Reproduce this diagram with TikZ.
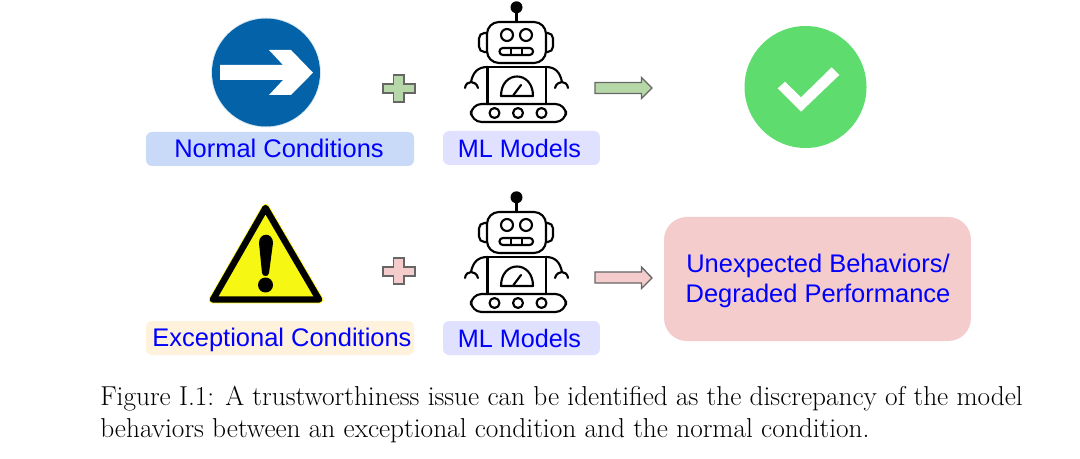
\documentclass[tikz,border=0pt]{standalone}
\usepackage{fontspec}
\newfontfamily\labelfont{Liberation Sans}
\definecolor{bluefill}{HTML}{C9DAF8}
\definecolor{violetfill}{HTML}{E0E0FF}
\definecolor{creamfill}{HTML}{FFF2DC}
\definecolor{pinkfill}{HTML}{F4CCCC}
\definecolor{greenfill}{HTML}{B6D7A8}
\definecolor{okgreen}{HTML}{5EDD6E}
\definecolor{signblue}{HTML}{0463A8}
\definecolor{signyellow}{HTML}{F7F714}
\tikzset{
  x=0.75pt,y=-0.75pt,
  labelbox/.style={rounded corners=4.5pt,inner sep=0pt,anchor=center,text=blue,text depth=4pt,font=\labelfont\fontsize{19.1}{23}\selectfont},
  robotline/.style={draw=black,line width=1.6pt,line cap=round,line join=round},
  blockshape/.style={draw=black!60,line width=1pt,line join=miter},
  pics/robot/.style={code={
    \fill (516.5,7.3) circle (6);
    \draw[robotline] (516.5,10) -- (516.5,22);
    \draw[robotline,rounded corners=9pt] (487,22) rectangle (546,63);
    \draw[robotline,rounded corners=4pt] (487,33) -- (479,33) -- (479,52) -- (487,52);
    \draw[robotline,rounded corners=4pt] (546,33) -- (553,33) -- (553,52) -- (546,52);
    \draw[robotline] (507,35) circle (6) (526,35) circle (6);
    \draw[robotline,rounded corners=2.5pt] (499.5,48) rectangle (533,55);
    \draw[robotline] (511,48) -- (511,55) (522,48) -- (522,55);
    \draw[robotline] (487.5,104) -- (487.5,67) (546,104) -- (546,67);
    \draw[robotline] (487.5,67) -- (546,67);
    \draw[robotline] (487.5,67) .. controls (478,67) and (473,72) .. (471,82);
    \draw[robotline] (546,67) .. controls (555,67) and (560,72) .. (562,82);
    \draw[robotline] (465,88) .. controls (466,80) and (476,80) .. (478,88);
    \draw[robotline] (568,88) .. controls (567,80) and (557,80) .. (555,88);
    \draw[robotline,rounded corners=8pt] (471,104) rectangle (566,122);
    \draw[robotline] (494.5,113) circle (5) (518,113) circle (5) (541.5,113) circle (5);
    \draw[robotline] (501,96) .. controls (501,70) and (533,70) .. (533,96) -- cycle;
    \draw[robotline] (513.5,95) -- (521,85);
  }}
}
\begin{document}
\begin{tikzpicture}
\useasboundingbox (0,0) rectangle (1080,459);

% blue sign
\fill[signblue!15] (266,72.5) circle (55);
\fill[signblue] (266,72.5) circle (54);
\fill[white] (220,65) -- (283,65) -- (269,50) -- (291,50) -- (313,72.7) -- (291,95) -- (269,95) -- (283,80) -- (220,80) -- cycle;

% warning sign
\draw[signyellow,fill=signyellow,line width=6pt,line join=round] (265.5,208) -- (213,299.5) -- (319,299.5) -- cycle;
\draw[black,line width=4.8pt,line join=round] (265.5,208) -- (213,299.5) -- (319,299.5) -- cycle;
\fill[black] (259,243) .. controls (259,232) and (273,232) .. (273,243) -- (269,273) .. controls (268.5,277) and (262.5,277) .. (262,273) -- cycle;
\fill[black] (265.5,285) circle (7.5);

% plus signs
\draw[blockshape,fill=greenfill] (393.5,75) -- (404,75) -- (404,84) -- (415,84) -- (415,93) -- (404,93) -- (404,102) -- (393.5,102) -- (393.5,93) -- (383,93) -- (383,84) -- (393.5,84) -- cycle;
\draw[blockshape,fill=pinkfill] (393.5,258) -- (404,258) -- (404,267) -- (415,267) -- (415,276) -- (404,276) -- (404,284) -- (393.5,284) -- (393.5,276) -- (383,276) -- (383,267) -- (393.5,267) -- cycle;

% robots
\pic {robot};
\pic[yshift=-142.5pt] {robot};

% block arrows
\draw[blockshape,fill=greenfill] (595,82.5) -- (641.5,82.5) -- (641.5,77.5) -- (652,88) -- (641.5,98.5) -- (641.5,93.5) -- (595,93.5) -- cycle;
\draw[blockshape,fill=pinkfill] (595,272) -- (641.5,272) -- (641.5,267) -- (652,278) -- (641.5,288.5) -- (641.5,283) -- (595,283) -- cycle;

% tick
\fill[okgreen] (805.5,87) circle (61);
\fill[white] (777.7,88.3) -- (785,81.7) -- (801,97.3) -- (831.7,67.3) -- (839.3,75) -- (801,111.7) -- cycle;

% labels
\node[labelbox,fill=bluefill,minimum width=201pt,minimum height=25.5pt,text height=17.5pt] (normal) at (280,149) {\hspace*{-1.5pt}Normal Conditions};
\node[labelbox,fill=violetfill,minimum width=117.7pt,minimum height=25.5pt,text height=18pt] (ml1) at (521.5,148) {\hspace*{-3pt}\fontsize{18.9}{23}\selectfont ML Models};
\node[labelbox,fill=creamfill,minimum width=201pt,minimum height=25.5pt,text height=16pt] (exceptional) at (280,338) {\hspace*{3pt}Exceptional Conditions};
\node[labelbox,fill=violetfill,minimum width=117.7pt,minimum height=25.5pt,text height=18.5pt] (ml2) at (521.5,338) {\hspace*{-3pt}\fontsize{18.9}{23}\selectfont ML Models};
\node[labelbox,fill=pinkfill,rounded corners=17pt,minimum width=230.2pt,minimum height=93pt] (outcome) at (817.5,279) {};
\node[labelbox,align=center,text depth=] (outcometext) at (818,281) {\fontsize{19.1}{23.4}\selectfont Unexpected Behaviors/\\Degraded Performance};

% caption
\node[anchor=north west,inner sep=0pt,align=left,font=\fontsize{20.5}{24}\selectfont] (caption) at (100,386) {Figure I.1: A trustworthiness issue can be identified as the discrepancy of the model\\behaviors between an exceptional condition and the normal condition.};
\end{tikzpicture}
\end{document}
